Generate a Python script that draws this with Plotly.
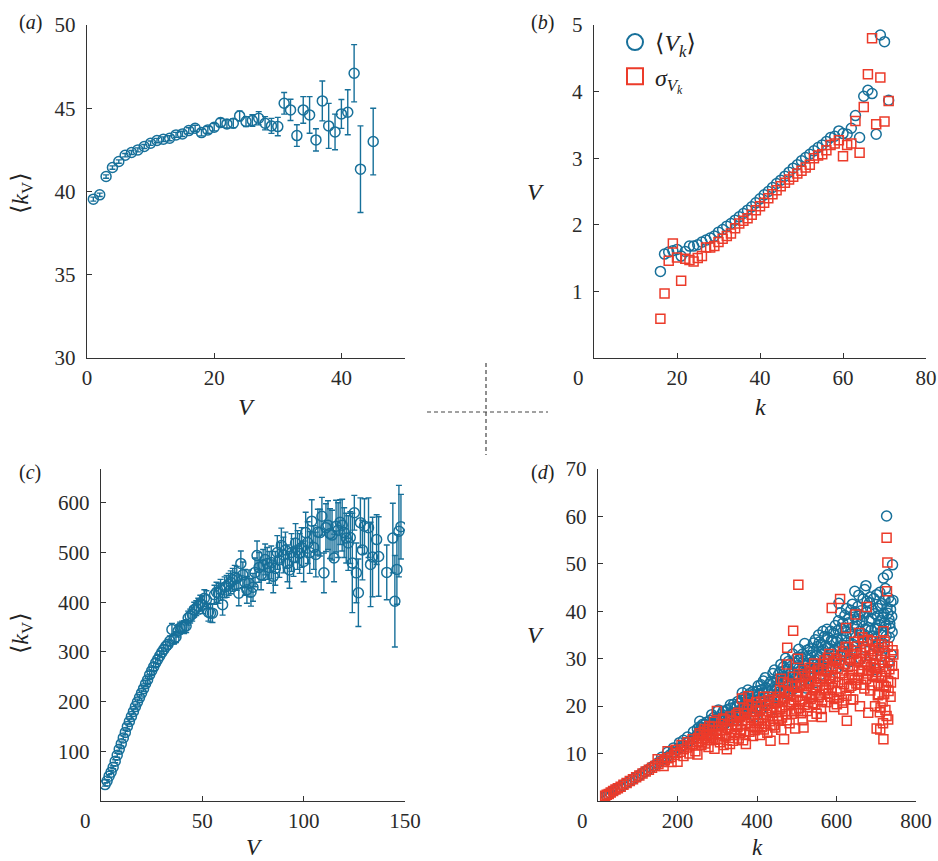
import plotly.graph_objects as go

# ---------------- panel (a): <k_V> against V ----------------
a_v = [1, 2, 3, 4, 5, 6, 7, 8, 9, 10, 11, 12, 13, 14, 15, 16, 17, 18, 19, 20,
       21, 22, 23, 24, 25, 26, 27, 28, 29, 30, 31, 32, 33, 34, 35, 36, 37, 38,
       39, 40, 41, 42, 43, 45]
a_k = [39.54, 39.80, 40.90, 41.44, 41.80, 42.18, 42.34, 42.50, 42.70, 42.90,
       43.06, 43.14, 43.20, 43.40, 43.46, 43.66, 43.80, 43.54, 43.70, 43.86,
       44.14, 44.06, 44.10, 44.54, 44.20, 44.26, 44.40, 44.10, 43.94, 43.90,
       45.30, 44.90, 43.36, 44.90, 44.60, 43.10, 45.44, 43.94, 43.58, 44.66,
       44.76, 47.10, 41.34, 43.00]
a_err = [0.12, 0.10, 0.10, 0.10, 0.10, 0.10, 0.12, 0.12, 0.12, 0.13,
         0.13, 0.14, 0.15, 0.15, 0.16, 0.17, 0.18, 0.20, 0.20, 0.22,
         0.24, 0.25, 0.27, 0.30, 0.30, 0.35, 0.40, 0.40, 0.45, 0.55,
         0.65, 0.64, 0.65, 0.80, 1.10, 0.67, 1.20, 1.35, 1.07, 0.87,
         1.35, 1.72, 2.60, 2.00]

# ---------------- panel (b): <V_k> and sigma against k ----------------
b_k = list(range(16, 72))
b_mean = [1.30, 1.56, 1.59, 1.61, 1.63, 1.53, 1.60, 1.68, 1.68, 1.70,
          1.74, 1.77, 1.80, 1.83, 1.89, 1.93, 1.98, 2.02, 2.07, 2.12,
          2.17, 2.22, 2.27, 2.33, 2.39, 2.45, 2.50, 2.56, 2.62, 2.67,
          2.73, 2.79, 2.85, 2.90, 2.96, 3.01, 3.06, 3.11, 3.16, 3.20,
          3.25, 3.31, 3.33, 3.41, 3.37, 3.36, 3.45, 3.64, 3.31, 3.93,
          4.02, 3.97, 3.36, 4.85, 4.75, 3.87]
b_sigma = [0.59, 0.97, 1.46, 1.72, 1.51, 1.16, 1.49, 1.47, 1.45, 1.50,
           1.53, 1.66, 1.66, 1.68, 1.74, 1.79, 1.83, 1.87, 1.95, 2.02,
           2.06, 2.10, 2.15, 2.22, 2.28, 2.33, 2.40, 2.46, 2.52, 2.58,
           2.63, 2.68, 2.72, 2.77, 2.81, 2.86, 2.90, 3.00, 3.04, 3.06,
           3.12, 3.20, 3.22, 3.27, 3.03, 3.20, 3.22, 3.56, 3.08, 3.77,
           4.26, 4.80, 3.51, 4.21, 3.55, 3.86]

# ---------------- panel (c): <k_V> against V ----------------
c_v = list(range(2, 126)) + [126, 127, 128, 129, 130, 132, 133, 134, 136, 137,
                             141, 144, 145, 146, 147, 148]
c_k = [33, 40, 50, 58, 68, 80, 92, 104, 115,
       127, 138, 150, 160, 170, 180, 190, 199, 208, 217,
       226, 236, 244, 254, 262, 270, 278, 285, 292, 299,
       305, 311, 315, 322, 345, 326, 330, 342, 348, 350,
       350, 352, 368, 372, 376, 385, 388, 392, 398, 394,
       408, 405, 380, 378, 378, 415, 420, 418, 425, 395,
       430, 432, 436, 440, 445, 450, 448, 418, 478, 455,
       440, 425, 438, 420, 430, 460, 494, 470, 455, 475,
       486, 478, 470, 480, 452, 468, 500, 485, 514, 495,
       505, 478, 465, 500, 490, 519, 505, 498, 510, 482,
       540, 520, 500, 563, 510, 496, 541, 540, 573, 459,
       550, 555, 538, 535, 489, 553, 545, 561, 555, 540,
       529, 519, 530, 479, 580,
       459, 419, 560, 505, 553, 550, 476, 491, 526, 492,
       460, 529, 402, 466, 543, 552]
c_err = [3, 3, 3, 3, 3, 3, 4, 4, 4,
         4, 4, 5, 5, 5, 5, 5, 6, 6, 6,
         6, 6, 7, 7, 7, 8, 8, 8, 9, 9,
         9, 10, 10, 10, 12, 10, 11, 12, 12, 12,
         13, 13, 14, 14, 14, 15, 15, 16, 16, 17,
         17, 18, 18, 18, 19, 19, 20, 20, 21, 21,
         21, 22, 22, 23, 23, 24, 24, 25, 25, 26,
         26, 27, 27, 28, 28, 29, 29, 30, 30, 31,
         31, 32, 32, 33, 33, 34, 34, 35, 35, 36,
         36, 37, 37, 38, 38, 39, 39, 40, 40, 41,
         41, 42, 42, 43, 44, 45, 46, 47, 38, 40,
         48, 49, 50, 50, 48, 52, 55, 45, 52, 50,
         50, 55, 52, 100, 35,
         60, 68, 50, 60, 55, 60, 85, 80, 50, 80,
         55, 70, 92, 70, 92, 65]

# ---------------- panel (d): <V_k> and sigma against k ----------------
# low-k band (narrow) and the widening cloud at larger k
d_mean_k = [20, 25, 30, 36, 42, 48, 55, 62, 70, 78, 86, 94, 102, 110, 118, 126,
            134, 142, 150, 158, 166, 174, 182, 190, 198, 206, 214, 222, 230,
            238, 246, 160, 175, 190, 205, 215, 225, 240, 250, 255, 260,
            252, 255, 258, 261, 264, 267, 270, 273, 276, 279, 282, 285, 288,
            291, 294, 297, 300, 302,
            305, 308, 311, 314, 317, 320, 323, 326, 329, 332, 335, 338, 341,
            344, 347, 350,
            353, 356, 359, 362, 365, 368, 371, 374, 377, 380, 383, 386, 389,
            392, 395, 398,
            401, 404, 407, 410, 413, 416, 419, 422, 425, 428, 431, 434, 437,
            440, 443, 446, 449,
            452, 455, 458, 461, 464, 467, 470, 473, 476, 479, 482, 485, 488,
            491, 494, 497, 500,
            503, 506, 509, 512, 515, 518, 521, 524, 527, 530, 533, 536, 539,
            542, 545, 548,
            551, 554, 557, 560, 563, 566, 569, 572, 575, 578, 581, 584, 587,
            590, 593, 596, 599,
            602, 605, 606, 609, 612, 615, 618, 621, 624, 627, 630, 633, 636,
            639, 642, 645, 646, 648,
            651, 654, 655, 658, 661, 664, 667, 670, 672, 674, 676, 678, 680,
            683, 686, 688, 691, 694, 697, 699, 701,
            703, 706, 708, 710, 712, 714, 716, 718, 720, 722, 724, 726, 727,
            728, 730, 732, 733, 735, 737, 739, 741, 738]
d_mean_v = [1.2, 1.4, 1.7, 2.0, 2.3, 2.6, 2.9, 3.3, 3.7, 4.1, 4.5, 4.9, 5.3,
            5.8, 6.2, 6.6, 7.1, 7.5, 8.0, 8.4, 8.9, 9.3, 9.8, 10.3, 10.8,
            11.2, 11.7, 12.3, 12.6, 13.1, 13.6, 9.2, 10.3, 11.2, 12.3, 12.8,
            13.5, 14.6, 15.2, 14.0, 15.5,
            14.2, 15.6, 13.8, 15.0, 16.2, 14.5, 15.4, 16.6, 14.8, 15.9, 17.0,
            15.2, 16.4, 17.6, 15.8, 16.9, 18.9, 16.2,
            17.5, 15.9, 18.3, 17.0, 16.1, 18.8, 17.6, 19.3, 16.8, 18.1, 19.6,
            17.4, 20.4, 18.5, 17.8, 19.9,
            18.7, 20.6, 17.9, 21.2, 19.4, 22.0, 18.6, 20.8, 23.4, 19.8, 21.6,
            18.9, 22.4, 20.3, 17.8, 21.9,
            23.2, 20.1, 22.6, 24.5, 19.6, 25.3, 21.8, 23.9, 20.4, 22.8, 24.6,
            19.2, 23.4, 26.9, 21.7, 24.2, 22.3,
            25.6, 23.0, 27.2, 21.4, 24.8, 28.3, 22.6, 26.1, 24.0, 29.4, 22.9,
            26.8, 25.1, 23.6, 28.0, 25.9, 30.2,
            26.4, 29.8, 24.2, 27.7, 31.0, 25.5, 28.6, 23.8, 30.5, 27.0, 32.1,
            26.2, 29.3, 33.3, 27.8, 25.0,
            30.8, 28.4, 33.5, 26.7, 31.6, 35.8, 29.2, 32.7, 27.3, 34.6, 30.1,
            25.8, 33.9, 29.6, 35.4, 31.8, 27.9,
            34.2, 38.0, 41.7, 30.6, 36.4, 32.9, 28.5, 39.1, 34.8, 31.2, 37.6,
            29.4, 40.2, 35.5, 33.0, 38.8, 44.2, 31.6,
            36.9, 41.0, 34.2, 39.3, 30.0, 37.8, 42.6, 35.1, 32.4, 45.4, 39.8,
            28.7, 36.6, 41.8, 34.0, 38.5, 31.0, 42.7, 36.2, 27.7, 43.5,
            39.0, 33.4, 37.2, 41.2, 30.5, 35.8, 38.7, 47.0, 33.1, 42.4, 36.9,
            60.1, 40.7, 47.7, 29.1, 38.3, 34.5, 36.5, 42.0, 38.9, 49.8, 30.9]
d_mean_k_extra = [256, 262, 268, 274, 280, 286, 292, 298,
                  303, 309, 315, 321, 327, 333, 339, 345, 349,
                  352, 357, 363, 367, 372, 376, 381, 385, 390, 394, 399,
                  403, 408, 412, 417, 421, 426, 430, 435, 439, 444, 448,
                  451, 454, 457, 460, 463, 466, 469, 472, 475, 478, 481, 484,
                  487, 490, 493, 496, 499,
                  502, 505, 508, 511, 514, 517, 520, 523, 526, 529, 532, 535,
                  538, 541, 544, 547, 550,
                  552, 555, 558, 561, 564, 567, 570, 573, 576, 579, 582, 585,
                  588, 591, 594, 597, 600,
                  601, 604, 607, 610, 613, 616, 619, 622, 625, 628, 631, 634,
                  637, 640, 643, 647, 649,
                  652, 656, 659, 662, 665, 668, 671, 673, 677, 679, 682, 685,
                  687, 690, 693, 696, 698,
                  702, 705, 707, 709, 711, 713, 715, 717, 719, 721, 723, 725,
                  729, 731, 734, 736, 740, 742]
d_mean_v_extra = [16.8, 14.6, 16.0, 14.2, 16.3, 18.2, 16.0, 17.3,
                  19.2, 17.2, 18.9, 16.5, 18.0, 20.3, 18.6, 19.8, 17.0,
                  21.0, 19.1, 22.8, 20.2, 21.7, 19.0, 22.6, 20.5, 23.1, 21.1,
                  19.6,
                  24.3, 21.2, 23.5, 22.7, 26.0, 23.2, 21.0, 25.2, 22.4, 27.6,
                  25.4,
                  23.8, 26.6, 24.4, 28.8, 26.0, 23.4, 27.5, 30.1, 25.4, 27.8,
                  24.6, 29.0, 27.2, 31.0, 26.4, 29.1, 24.7,
                  28.5, 32.0, 27.4, 30.3, 26.5, 29.5, 33.2, 27.1, 31.8, 29.0,
                  26.3, 30.7, 28.0, 31.5, 29.7, 34.0, 28.8,
                  32.6, 35.0, 30.4, 33.0, 28.6, 31.9, 34.7, 30.0, 36.2, 32.3,
                  28.2, 35.8, 31.4, 33.8, 30.5, 37.0, 33.5,
                  30.1, 36.0, 32.4, 39.7, 34.0, 37.5, 31.5, 35.9, 40.6, 33.5,
                  38.4, 35.2, 32.0, 41.5, 36.8, 39.9, 34.6,
                  38.2, 43.4, 35.8, 40.1, 33.2, 38.9, 44.6, 36.3, 42.1, 33.6,
                  38.0, 43.0, 36.0, 40.3, 34.8, 39.5, 32.6,
                  36.4, 40.6, 31.8, 44.0, 38.0, 35.0, 41.6, 32.4, 39.5, 37.6,
                  44.8, 34.8, 39.6, 42.8, 37.4, 40.4, 35.6, 42.3]

d_sigma_k = [18, 22, 27, 32, 38, 44, 50, 57, 64, 72, 80, 88, 96, 104, 112, 120,
             128, 136, 144, 152, 160, 168, 176, 184, 192, 200, 208, 216, 224,
             232, 240, 248, 150, 165, 175, 185, 195, 200, 210, 215, 225, 230,
             238, 245, 250, 252,
             254, 257, 260, 263, 266, 269, 272, 275, 278, 281, 284, 287, 290,
             293, 296, 299, 301,
             304, 307, 310, 313, 316, 319, 322, 324, 327, 330, 333, 336, 339,
             342, 345, 348,
             351, 354, 357, 360, 362, 365, 368, 371, 372, 375, 378, 381, 384,
             387, 390, 393, 396, 399,
             402, 405, 408, 411, 414, 417, 420, 423, 426, 429, 432, 434, 437,
             440, 443, 446, 449,
             452, 455, 458, 461, 464, 466, 468, 470, 473, 475, 476, 479, 482,
             485, 488, 491, 493, 496, 499,
             503, 504, 506, 509, 512, 515, 517, 520, 523, 526, 529, 532, 535,
             538, 541, 544, 547, 549,
             552, 555, 558, 561, 563, 566, 569, 572, 575, 578, 581, 584, 587,
             588, 591, 594, 597, 600,
             603, 606, 609, 612, 615, 617, 620, 623, 624, 626, 629, 632, 635,
             636, 639, 642, 645, 648, 650,
             653, 655, 657, 659, 662, 665, 668, 670, 673, 676, 678, 680, 683,
             686, 689, 692, 694, 697, 699,
             701, 703, 705, 706, 708, 710, 711, 713, 715, 716, 718, 718, 720,
             721, 722, 724, 726, 726, 727, 728, 730, 730, 733, 736, 740, 743]
d_sigma_v = [1.1, 1.3, 1.5, 1.8, 2.1, 2.4, 2.7, 3.0, 3.4, 3.8, 4.2, 4.6, 5.0,
             5.4, 5.8, 6.2, 6.6, 7.0, 7.4, 7.8, 8.2, 8.6, 9.0, 9.3, 9.7, 10.1,
             10.4, 10.9, 11.3, 11.7, 12.0, 12.5, 8.8, 7.4, 10.5, 8.2, 10.8,
             8.3, 11.8, 9.5, 12.4, 10.0, 13.0, 10.5, 9.8, 13.3,
             12.6, 13.9, 11.8, 13.2, 14.6, 12.1, 13.7, 15.0, 11.4, 14.2, 12.8,
             15.6, 13.4, 11.0, 14.8, 19.0, 13.1,
             15.7, 12.4, 16.3, 14.0, 11.8, 17.2, 14.9, 10.9, 16.0, 13.3, 17.8,
             15.2, 12.7, 16.8, 14.3, 18.2,
             15.6, 13.2, 17.7, 15.0, 21.6, 12.8, 18.4, 16.2, 12.0, 19.3, 22.1,
             14.6, 17.5, 20.0, 13.7, 16.9, 18.9, 15.3,
             19.8, 16.4, 13.9, 21.0, 17.6, 15.1, 20.3, 18.2, 14.4, 22.0, 16.8,
             12.7, 19.6, 17.3, 21.4, 15.5, 18.7,
             20.9, 17.2, 23.4, 15.0, 19.8, 25.1, 13.0, 21.6, 18.3, 28.8, 32.3,
             22.7, 16.4, 20.5, 24.3, 35.9, 18.9, 15.3, 22.0,
             30.0, 45.6, 19.6, 24.5, 21.2, 17.0, 15.5, 26.3, 22.8, 19.0, 25.0,
             28.1, 21.5, 17.8, 23.5, 26.9, 20.4, 24.0,
             27.5, 21.9, 25.8, 19.4, 17.7, 28.9, 23.3, 26.4, 20.8, 30.2, 24.6,
             22.0, 27.8, 40.7, 25.2, 19.8, 29.5, 23.0,
             27.9, 21.8, 42.6, 30.8, 20.7, 19.3, 25.6, 32.5, 36.5, 16.9, 28.3,
             23.9, 30.1, 21.4, 26.6, 21.4, 33.6, 39.3, 24.8,
             29.4, 26.0, 35.4, 20.0, 31.2, 27.5, 33.8, 23.7, 30.5, 40.9, 26.9,
             18.6, 32.0, 28.2, 24.4, 33.7, 29.0, 20.0, 26.1,
             15.3, 30.7, 24.8, 22.5, 28.6, 15.1, 19.7, 33.0, 26.4, 21.0, 13.0,
             35.8, 22.5, 29.2, 31.2, 24.1, 55.5, 17.9, 44.2, 50.3, 25.3, 17.2,
             27.8, 22.0, 28.5, 30.9]
d_sigma_k_extra = [256, 262, 268, 274, 280, 286, 292, 298,
                   303, 309, 315, 321, 326, 332, 337, 343, 349,
                   353, 358, 363, 367, 371, 376, 380, 385, 389, 394, 398,
                   403, 407, 412, 416, 421, 425, 430, 434, 438, 443, 447,
                   451, 454, 457, 460, 463, 466, 469, 472, 475, 478, 481, 484,
                   487, 490, 493, 496, 499,
                   502, 505, 508, 511, 514, 517, 520, 523, 526, 529, 532, 535,
                   538, 541, 544, 547, 550,
                   552, 555, 558, 561, 564, 567, 570, 573, 576, 579, 582, 585,
                   588, 591, 594, 597, 600,
                   601, 604, 607, 610, 613, 616, 619, 622, 625, 628, 631, 634,
                   637, 640, 643, 646, 649,
                   652, 656, 659, 662, 665, 668, 671, 674, 677, 679, 682, 685,
                   687, 690, 693, 696, 698,
                   702, 704, 707, 709, 712, 714, 717, 719, 721, 723, 725, 729,
                   731, 734, 737, 741, 744]
d_sigma_v_extra = [14.3, 12.4, 15.2, 12.9, 15.8, 13.8, 16.7, 14.1,
                   13.0, 15.0, 17.4, 13.6, 15.4, 12.0, 16.9, 13.9, 16.1,
                   18.6, 14.4, 16.8, 19.6, 14.0, 17.1, 20.4, 15.8, 18.2, 14.9,
                   20.8,
                   17.0, 19.2, 15.6, 22.0, 16.3, 19.0, 21.3, 15.9, 18.6, 16.0,
                   20.9,
                   18.0, 22.0, 19.4, 25.8, 17.6, 21.0, 23.2, 19.0, 17.0, 24.8,
                   20.2, 22.5, 18.4, 26.2, 21.3, 24.1, 19.3,
                   23.2, 26.8, 21.0, 18.5, 24.2, 27.6, 20.3, 25.4, 22.4, 19.8,
                   24.7, 27.2, 22.0, 20.6, 29.0, 23.3, 18.4,
                   24.5, 28.0, 22.4, 26.0, 21.0, 25.7, 29.6, 23.5, 27.3, 22.6,
                   31.0, 25.9, 23.8, 28.4, 21.5, 26.2, 30.0,
                   20.4, 25.0, 29.1, 23.2, 27.0, 31.5, 24.6, 28.9, 22.2, 32.4,
                   26.0, 29.8, 24.3, 27.7, 31.0, 25.5, 29.6,
                   32.6, 27.3, 30.0, 24.5, 34.5, 28.7, 31.8, 25.8, 29.3, 34.0,
                   27.4, 23.3, 30.7, 26.5, 31.6, 28.0, 33.0,
                   27.2, 22.3, 32.2, 18.7, 26.0, 29.8, 16.4, 24.3, 33.6, 19.2,
                   27.3, 32.5, 23.2, 29.5, 25.0, 31.8, 26.8]

BLUE = "#17709a"
RED = "#ec3b2a"
AXIS = "#333333"
SERIF = "Liberation Serif, Times New Roman, DejaVu Serif, serif"
W, H = 938, 861


def px(x, y):
    """Pixel position on the page -> paper coordinates."""
    return x / W, 1 - y / H


def xdom(x0, x1):
    return [x0 / W, x1 / W]


def ydom(y_top, y_bottom):
    return [1 - y_bottom / H, 1 - y_top / H]


def axis(rng, tickvals, ticktext, domain, anchor, standoff):
    return dict(range=rng, domain=domain, anchor=anchor, tickvals=tickvals,
                ticktext=ticktext, showline=True, linecolor=AXIS, linewidth=1.4,
                ticks="inside", ticklen=5, tickwidth=1.2, tickcolor=AXIS,
                showgrid=False, zeroline=False, ticklabelstandoff=standoff,
                automargin=False,
                tickfont=dict(family=SERIF, size=21, color="#2a2a2a"))


def xaxis_style(rng, tickvals, ticktext, domain, anchor):
    return axis(rng, tickvals, ticktext, domain, anchor, 1)


def yaxis_style(rng, tickvals, ticktext, domain, anchor):
    return axis(rng, tickvals, ticktext, domain, anchor, 6)


ZERO = "0" + "\u00a0" * 6

fig = go.Figure()

err_style = dict(type="data", color=BLUE, thickness=1.4, width=3)
circ = dict(symbol="circle-open", size=10, color=BLUE, line=dict(width=1.5))
sq = dict(symbol="square-open", size=9, color=RED, line=dict(width=1.5))

fig.add_trace(go.Scatter(
    x=a_v, y=a_k, mode="markers", xaxis="x", yaxis="y", showlegend=False,
    error_y=dict(array=a_err, **err_style), marker=circ))

fig.add_trace(go.Scatter(
    x=b_k, y=b_mean, mode="markers", xaxis="x2", yaxis="y2", showlegend=False,
    marker=circ))
fig.add_trace(go.Scatter(
    x=b_k, y=b_sigma, mode="markers", xaxis="x2", yaxis="y2", showlegend=False,
    marker=sq))

# legend entries
fig.add_trace(go.Scatter(
    x=[None], y=[None], mode="markers", xaxis="x2", yaxis="y2",
    name="⟨<i>V</i><sub><i>k</i></sub>⟩",
    marker=dict(symbol="circle-open", size=16, color=BLUE, line=dict(width=2))))
fig.add_trace(go.Scatter(
    x=[None], y=[None], mode="markers", xaxis="x2", yaxis="y2",
    name="<i>σ</i><sub><i>V</i><sub><i>k</i></sub></sub>",
    marker=dict(symbol="square-open", size=16, color=RED, line=dict(width=2))))

fig.add_trace(go.Scatter(
    x=c_v, y=c_k, mode="markers", xaxis="x3", yaxis="y3", showlegend=False,
    error_y=dict(array=c_err, **err_style), marker=circ))

fig.add_trace(go.Scatter(
    x=d_mean_k + d_mean_k_extra, y=d_mean_v + d_mean_v_extra, mode="markers",
    xaxis="x4", yaxis="y4", showlegend=False, marker=circ))
fig.add_trace(go.Scatter(
    x=d_sigma_k + d_sigma_k_extra, y=d_sigma_v + d_sigma_v_extra, mode="markers",
    xaxis="x4", yaxis="y4", showlegend=False, marker=sq))

ann = []


def label(x, y, text, size=20, angle=0):
    ax, ay = px(x, y)
    ann.append(dict(x=ax, y=ay, xref="paper", yref="paper", text=text,
                    showarrow=False, textangle=angle, xanchor="center",
                    yanchor="middle",
                    font=dict(family=SERIF, size=size, color="#222222")))


label(30, 22, "(<i>a</i>)", 20)
label(542, 22, "(<i>b</i>)", 20)
label(30, 472, "(<i>c</i>)", 20)
label(542, 472, "(<i>d</i>)", 20)

label(246, 407, "<i>V</i>", 24)
label(22, 193, "⟨<i>k</i><sub>V</sub>⟩", 24, -90)
label(535, 192, "<i>V</i>", 24)
label(760, 407, "<i>k</i>", 24)
label(254, 847, "<i>V</i>", 23)
label(22, 633, "⟨<i>k</i><sub>V</sub>⟩", 24, -90)
label(535, 635, "<i>V</i>", 24)
label(757, 847, "<i>k</i>", 23)

shapes = []
for (x0, y0, x1, y1) in [(427, 412, 548, 412), (486, 363, 486, 455)]:
    p0, p1 = px(x0, y0), px(x1, y1)
    shapes.append(dict(type="line", xref="paper", yref="paper",
                       x0=p0[0], y0=p0[1], x1=p1[0], y1=p1[1],
                       line=dict(color="#444444", width=1.2, dash="4px,3px")))

fig.update_layout(
    width=W, height=H,
    margin=dict(l=0, r=0, t=0, b=0, pad=0, autoexpand=False),
    paper_bgcolor="white", plot_bgcolor="white",
    xaxis=xaxis_style([0, 50], [0, 20, 40], ["0", "20", "40"], xdom(87, 405), "y"),
    yaxis=yaxis_style([30, 50], [30, 35, 40, 45, 50],
                      ["30", "35", "40", "45", "50"], ydom(25, 358), "x"),
    xaxis2=xaxis_style([0, 80], [0, 20, 40, 60, 80],
                       [ZERO, "20", "40", "60", "80"], xdom(594, 926), "y2"),
    yaxis2=yaxis_style([0, 5], [1, 2, 3, 4, 5], ["1", "2", "3", "4", "5"],
                       ydom(25, 358), "x2"),
    xaxis3=xaxis_style([0, 150], [0, 50, 100, 150], [ZERO, "50", "100", "150"],
                       xdom(101, 405), "y3"),
    yaxis3=yaxis_style([0, 668], [100, 200, 300, 400, 500, 600],
                       ["100", "200", "300", "400", "500", "600"],
                       ydom(469, 801), "x3"),
    xaxis4=xaxis_style([0, 800], [0, 200, 400, 600, 800],
                       [ZERO, "200", "400", "600", "800"], xdom(598, 916), "y4"),
    yaxis4=yaxis_style([0, 70], [10, 20, 30, 40, 50, 60, 70],
                       ["10", "20", "30", "40", "50", "60", "70"],
                       ydom(469, 801), "x4"),
    legend=dict(x=615 / W, y=1 - 20 / H, xanchor="left", yanchor="top",
                bgcolor="rgba(0,0,0,0)", itemsizing="trace",
                font=dict(family=SERIF, size=24, color="#222222"),
                tracegroupgap=0),
    annotations=ann, shapes=shapes,
)

fig.write_html("out.html")
